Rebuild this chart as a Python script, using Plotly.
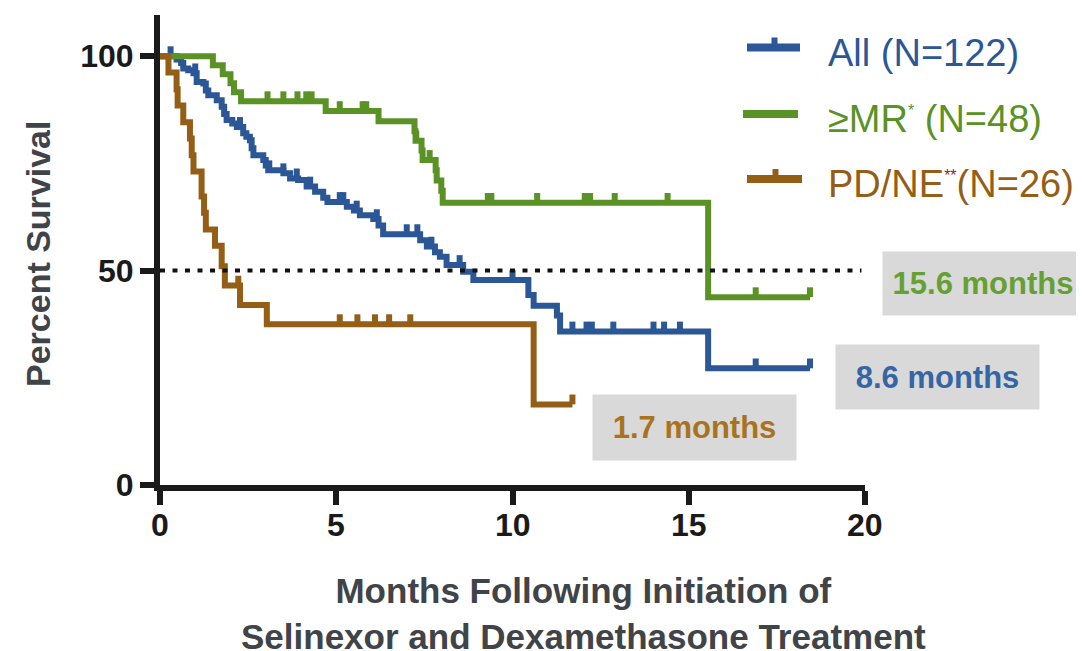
import plotly.graph_objects as go

# ---------------- data ----------------
all_t = [0, 0.47, 0.6, 0.66, 0.8, 0.95, 1.04, 1.23, 1.3, 1.37, 1.61, 1.75, 1.82, 1.89, 2.05, 2.18,
         2.36, 2.45, 2.55, 2.6, 2.65, 2.93, 3.0, 3.07, 3.5, 3.69, 3.92, 4.16, 4.4, 4.63, 4.75, 5.3,
         5.5, 5.67, 6.05, 6.2, 6.33, 7.38, 7.57, 7.8, 7.94, 8.13, 8.6, 8.89, 10.45, 10.6, 11.26,
         11.35, 15.55, 18.44]
all_s = [100, 99.2, 98.4, 97.1, 96.7, 96.0, 94.0, 93.6, 92.0, 90.9, 89.7, 88.2, 86.5, 85.1, 84.3,
         83.5, 82.0, 81.2, 80.4, 78.5, 76.9, 75.8, 74.5, 73.4, 72.7, 71.5, 71.1, 69.6, 68.4, 67.0,
         66.0, 64.9, 64.0, 62.9, 62.0, 60.5, 58.5, 57.1, 55.6, 54.3, 53.2, 51.3, 49.7, 47.8, 44.3,
         41.8, 39.5, 35.8, 27.2, 27.2]
all_cens = [0.3, 1.0, 2.27, 3.1, 3.5, 3.88, 4.26, 5.1, 5.2, 5.58, 6.15, 7.0, 7.3, 7.7, 8.5, 10.0,
            11.7, 12.1, 12.25, 12.86, 14.0, 14.3, 14.75, 16.9, 18.44]

mr_t = [0, 1.5, 1.78, 2.0, 2.1, 2.3, 4.7, 6.2, 7.22, 7.25, 7.42, 7.45, 7.82, 7.85, 7.98, 8.02,
        15.55, 18.44]
mr_s = [100, 97.9, 95.8, 93.7, 91.6, 89.5, 87.2, 84.8, 82.5, 80.3, 78.0, 75.8, 73.4, 71.0, 68.6,
        65.8, 43.8, 43.8]
mr_cens = [3.05, 3.5, 3.9, 4.15, 4.3, 5.1, 5.75, 5.85, 7.27, 7.65, 9.3, 9.4, 10.7, 12.05, 12.2,
           12.9, 14.4, 16.9, 18.44]

pd_t = [0, 0.24, 0.47, 0.5, 0.66, 0.85, 0.9, 0.95, 1.18, 1.25, 1.3, 1.56, 1.75, 1.84, 2.27, 3.03,
        10.6, 11.7]
pd_s = [100, 96.2, 92.3, 88.5, 84.6, 80.8, 76.9, 73.1, 67.3, 63.5, 59.6, 55.8, 51.0, 46.5, 42.0,
        37.5, 18.8, 18.8]
pd_cens = [2.22, 5.1, 5.6, 6.1, 6.5, 7.1, 11.7]

group_names = ["All (N=122)", "≥MR* (N=48)", "PD/NE** (N=26)"]
medians = ["15.6 months", "8.6 months", "1.7 months"]
x_ticks = [0, 5, 10, 15, 20]
y_ticks = [0, 50, 100]

# ---------------- styling ----------------
BLUE, GREEN, BROWN = "#2B5797", "#5A9226", "#945E16"
FONT = "Liberation Sans, Arial, sans-serif"
OFF = 8                      # page body margin of the html page
W, H = 1084 - OFF, 651 - OFF
L, R, T, B = 160 - OFF, 1084 - 865, 15 - OFF, 651 - 485
PW, PH = W - L - R, H - T - B
YMAX = 109.6


def px(x):
    """page pixel x -> paper coordinate"""
    return (x - OFF - L) / PW


def py(y):
    """page pixel y -> paper coordinate"""
    return (H - B - (y - OFF)) / PH


def step_at(ts, ss, t):
    v = ss[0]
    for ti, si in zip(ts, ss):
        if ti <= t:
            v = si
    return v


fig = go.Figure()

series = [(all_t, all_s, all_cens, BLUE), (mr_t, mr_s, mr_cens, GREEN), (pd_t, pd_s, pd_cens, BROWN)]
for (ts, ss, cens, col), name in zip(series, group_names):
    fig.add_trace(go.Scatter(x=ts, y=ss, mode="lines", line=dict(color=col, width=6, shape="hv"),
                             name=name, showlegend=False, hoverinfo="skip"))
    cx, cy = [], []
    for c in cens:
        v = step_at(ts, ss, c)
        cx += [c, c, None]
        cy += [v, v + 2.3, None]
    fig.add_trace(go.Scatter(x=cx, y=cy, mode="lines", line=dict(color=col, width=6),
                             showlegend=False, hoverinfo="skip"))

# median reference line
fig.add_trace(go.Scatter(x=[0, 19.9], y=[50, 50], mode="lines",
                         line=dict(color="#111111", width=4, dash="5px,7.5px"),
                         showlegend=False, hoverinfo="skip"))

fig.update_layout(
    width=W, height=H,
    margin=dict(l=L, r=R, t=T, b=B),
    paper_bgcolor="white", plot_bgcolor="white",
    font=dict(family=FONT),
    xaxis=dict(range=[0, 20], tickvals=x_ticks, showgrid=False, zeroline=False,
               showline=True, linecolor="#1a1a1a", linewidth=6, showticklabels=False,
               ticks="outside", ticklen=14, tickwidth=6, tickcolor="#1a1a1a"),
    yaxis=dict(range=[0, YMAX], tickvals=y_ticks, showgrid=False, zeroline=False,
               showline=True, linecolor="#1a1a1a", linewidth=6,
               ticks="outside", ticklen=14, tickwidth=6, tickcolor="#1a1a1a",
               tickfont=dict(size=32, color="#1a1a1a", family=FONT, weight="bold")),
)

# x tick labels
for v in x_ticks:
    fig.add_annotation(text=str(v), xref="x", yref="paper", x=v, y=py(525),
                       xanchor="center", yanchor="middle", showarrow=False,
                       font=dict(size=32, color="#1a1a1a", family=FONT, weight="bold"))

TITLE_COL = "#404448"
fig.add_annotation(text="Percent Survival", textangle=-90, xref="paper", yref="paper",
                   x=px(38), y=py(254), xanchor="center", yanchor="middle", showarrow=False,
                   font=dict(size=34, color=TITLE_COL, family=FONT, weight="bold"))
fig.add_annotation(text="Months Following Initiation of<br>Selinexor and Dexamethasone Treatment",
                   xref="paper", yref="paper", x=px(583), y=py(613), xanchor="center",
                   yanchor="middle", showarrow=False,
                   font=dict(size=35, color=TITLE_COL, family=FONT, weight="bold"))

# legend (drawn manually)
leg = [
    (BLUE, 47.5, 747, 800, True, 53,
     f"<span style='color:{BLUE}'>{group_names[0]}</span>"),
    (GREEN, 114, 743, 798, False, 119,
     f"<span style='color:{GREEN}'>≥MR<sup><span style='font-size:16px'>*</span></sup> (N=48)</span>"),
    (BROWN, 179, 747, 802, True, 183.5,
     f"<span style='color:{BROWN}'>PD/NE<sup><span style='color:#8B1E1E;font-size:16px'>**</span></sup>(N=26)</span>"),
]
for col, ly, x0, x1, tick, ty, txt in leg:
    fig.add_shape(type="line", xref="paper", yref="paper", x0=px(x0), x1=px(x1),
                  y0=py(ly), y1=py(ly), line=dict(color=col, width=8))
    if tick:
        xm = (x0 + x1) / 2 + 1
        fig.add_shape(type="line", xref="paper", yref="paper", x0=px(xm), x1=px(xm),
                      y0=py(ly), y1=py(ly - 10), line=dict(color=col, width=6))
    fig.add_annotation(text=txt, xref="paper", yref="paper", x=px(826), y=py(ty),
                       xanchor="left", yanchor="middle", showarrow=False,
                       font=dict(size=38, family=FONT))

# median labels
boxes = [
    (medians[0], "#65A032", 983, 283.5, 200, 63),
    (medians[1], "#3465A5", 937.5, 377, 203, 64),
    (medians[2], "#A8731E", 694.5, 427.5, 203, 65),
]
for txt, col, cx, cy, bw, bh in boxes:
    fig.add_annotation(text=txt, xref="paper", yref="paper", x=px(cx), y=py(cy),
                       xanchor="center", yanchor="middle", showarrow=False,
                       width=bw, height=bh, borderpad=0, bgcolor="#D9D9D9",
                       font=dict(size=31, color=col, family=FONT, weight="bold"))

fig.write_html("out.html")
